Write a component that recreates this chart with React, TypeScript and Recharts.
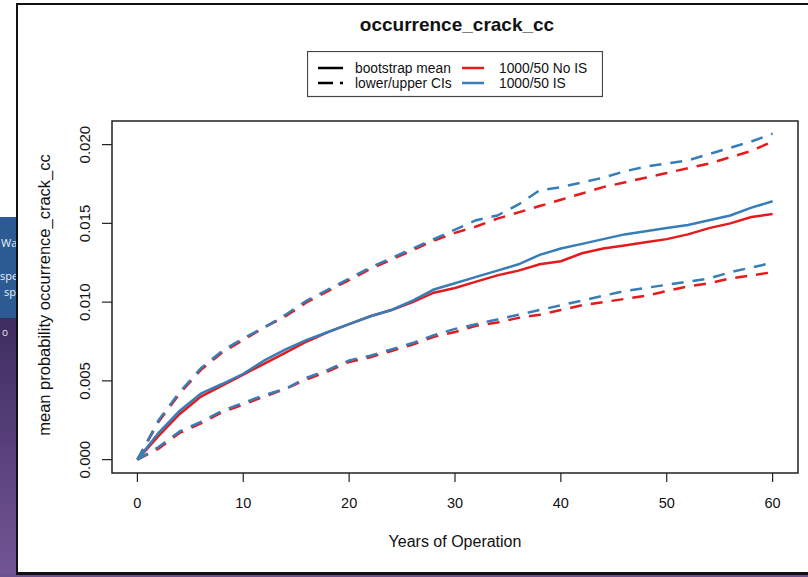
import { LineChart, Line, XAxis, YAxis, ReferenceArea, Legend, Label } from "recharts";

const years = [0, 2, 4, 6, 8, 10, 12, 14, 16, 18, 20, 22, 24, 26, 28, 30, 32, 34, 36, 38, 40, 42, 44, 46, 48, 50, 52, 54, 56, 58, 60];

// 1000/50 No IS (red)
const meanNoIS = [0, 0.0015, 0.0029, 0.004, 0.0047, 0.0054, 0.0061, 0.0068, 0.0075, 0.0081, 0.0086, 0.0091, 0.0095, 0.01, 0.0106, 0.0109, 0.0113, 0.0117, 0.012, 0.0124, 0.0126, 0.0131, 0.0134, 0.0136, 0.0138, 0.014, 0.0143, 0.0147, 0.015, 0.0154, 0.0156];
const upperNoIS = [0, 0.0024, 0.0042, 0.0057, 0.0068, 0.0076, 0.0084, 0.0091, 0.01, 0.0107, 0.0114, 0.0121, 0.0127, 0.0133, 0.0139, 0.0144, 0.0148, 0.0153, 0.0157, 0.0161, 0.0165, 0.0169, 0.0173, 0.0176, 0.0179, 0.0182, 0.0185, 0.0188, 0.0192, 0.0196, 0.0202];
const lowerNoIS = [0, 0.0007, 0.0017, 0.0023, 0.003, 0.0035, 0.004, 0.0045, 0.0051, 0.0056, 0.0062, 0.0065, 0.0069, 0.0073, 0.0078, 0.0081, 0.0085, 0.0087, 0.009, 0.0092, 0.0095, 0.0098, 0.01, 0.0102, 0.0104, 0.0107, 0.011, 0.0112, 0.0115, 0.0117, 0.0119];

// 1000/50 IS (blue)
const meanIS = [0, 0.0017, 0.0031, 0.0042, 0.0048, 0.00545, 0.0063, 0.007, 0.0076, 0.0081, 0.0086, 0.0091, 0.0095, 0.0101, 0.0108, 0.0112, 0.0116, 0.012, 0.0124, 0.013, 0.0134, 0.0137, 0.014, 0.0143, 0.0145, 0.0147, 0.0149, 0.0152, 0.0155, 0.016, 0.0164];
const upperIS = [0, 0.0025, 0.0043, 0.0058, 0.0069, 0.0077, 0.0084, 0.0092, 0.0101, 0.0108, 0.0115, 0.0122, 0.0128, 0.0134, 0.014, 0.0146, 0.0152, 0.0155, 0.0162, 0.0171, 0.0173, 0.0176, 0.0179, 0.0183, 0.0186, 0.0188, 0.019, 0.0194, 0.0198, 0.0202, 0.0207];
const lowerIS = [0, 0.0008, 0.0018, 0.0024, 0.0031, 0.0036, 0.0041, 0.0045, 0.0052, 0.0057, 0.0063, 0.0066, 0.007, 0.0074, 0.0079, 0.0083, 0.0086, 0.0089, 0.0092, 0.0095, 0.0098, 0.0101, 0.0104, 0.0107, 0.0109, 0.0111, 0.0113, 0.0115, 0.0119, 0.0122, 0.0125];

const xTicks = [0, 10, 20, 30, 40, 50, 60];
const yTicks = [0, 0.005, 0.01, 0.015, 0.02];
const legendStyles = ["bootstrap mean", "lower/upper CIs"];
const legendGroups = ["1000/50 No IS", "1000/50 IS"];

const RED = "#E41A1C";
const BLUE = "#377EB8";
const FONT = "'Liberation Sans', Arial, sans-serif";
const DASH = "12 9";

const data = years.map((year, i) => ({
  year,
  meanNoIS: meanNoIS[i],
  upperNoIS: upperNoIS[i],
  lowerNoIS: lowerNoIS[i],
  meanIS: meanIS[i],
  upperIS: upperIS[i],
  lowerIS: lowerIS[i],
}));

const XTick = (props: any) => {
  const { x, y, payload } = props;
  return (
    <text x={x} y={y + 24} textAnchor="middle" fontFamily={FONT} fontSize={14.5} fill="#111">
      {payload.value}
    </text>
  );
};

const YTick = (props: any) => {
  const { x, y, payload } = props;
  return (
    <text transform={`translate(${x - 10},${y}) rotate(-90)`} textAnchor="middle" fontFamily={FONT} fontSize={15} fill="#111">
      {Number(payload.value).toFixed(3)}
    </text>
  );
};

const LegendBox = () => (
  <svg width={296} height={47} style={{ display: "block" }}>
    <rect x={0.5} y={0.5} width={295} height={45} fill="#fff" stroke="#444" strokeWidth={1.2} />
    <line x1={11} x2={36} y1={17} y2={17} stroke="#000" strokeWidth={2.5} />
    <line x1={11} x2={36} y1={32} y2={32} stroke="#000" strokeWidth={2.5} strokeDasharray="15 7" />
    <line x1={155} x2={177} y1={17} y2={17} stroke={RED} strokeWidth={2.5} />
    <line x1={155} x2={177} y1={32} y2={32} stroke={BLUE} strokeWidth={2.5} />
    {legendStyles.map((t, i) => (
      <text key={t} x={48} y={21.5 + i * 15} fontFamily={FONT} fontSize={13.8} fill="#111">
        {t}
      </text>
    ))}
    {legendGroups.map((t, i) => (
      <text key={t} x={192} y={21.5 + i * 15} fontFamily={FONT} fontSize={13.8} fill="#111">
        {t}
      </text>
    ))}
  </svg>
);

export default function App() {
  return (
    <div style={{ position: "fixed", left: 0, top: 0, width: 808, height: 577, background: "#fff", overflow: "hidden" }}>
      {/* background window bits */}
      <div style={{ position: "absolute", left: 0, top: 217, width: 17, height: 101, background: "#2b5b92" }} />
      <div style={{ position: "absolute", left: 0, top: 318, width: 17, height: 259, background: "linear-gradient(#3e2d60, #735595)" }} />
      <div style={{ position: "absolute", left: 0, top: 574, width: 808, height: 3, background: "#6a5290" }} />
      <div style={{ position: "absolute", left: 1, top: 237, fontFamily: "'Open Sans', sans-serif", fontSize: 11, color: "#e8eef8", lineHeight: "12px" }}>Wa</div>
      <div style={{ position: "absolute", left: 0, top: 270, fontFamily: "'Open Sans', sans-serif", fontSize: 11, color: "#e8eef8", lineHeight: "12px" }}>spe</div>
      <div style={{ position: "absolute", left: 4, top: 286, fontFamily: "'Open Sans', sans-serif", fontSize: 11, color: "#e8eef8", lineHeight: "12px" }}>sp</div>
      <div style={{ position: "absolute", left: 2, top: 326, fontFamily: "'Open Sans', sans-serif", fontSize: 10, color: "#e8e4f0", lineHeight: "12px" }}>o</div>
      {/* window frame */}
      <div style={{ position: "absolute", left: 16, top: 3, width: 792, height: 2, background: "#111" }} />
      <div style={{ position: "absolute", left: 16, top: 3, width: 2, height: 572, background: "#111" }} />
      <div style={{ position: "absolute", left: 16, top: 572, width: 792, height: 3, background: "#111" }} />
      <div style={{ position: "absolute", left: 0, top: 0, width: 808, height: 577 }}>
        <LineChart width={808} height={577} data={data} margin={{ top: 121, right: 10, bottom: 0, left: 0 }}>
          <text x={457} y={31} textAnchor="middle" fontFamily={FONT} fontWeight="bold" fontSize={19} fill="#111">
            occurrence_crack_cc
          </text>
          <XAxis
            dataKey="year"
            type="number"
            domain={[-2.4, 62.4]}
            ticks={xTicks}
            allowDataOverflow
            height={104}
            axisLine={false}
            tickLine={{ stroke: "#222", strokeWidth: 1.2 }}
            tickSize={9}
            tick={<XTick />}
            interval={0}
          >
            <Label
              content={(p: any) => {
                const vb = p.viewBox || { x: 112, y: 473, width: 686 };
                return (
                  <text x={vb.x + vb.width / 2} y={vb.y + 74} textAnchor="middle" fontFamily={FONT} fontSize={16} fill="#111">
                    Years of Operation
                  </text>
                );
              }}
            />
          </XAxis>
          <YAxis
            type="number"
            domain={[-0.00085, 0.0215]}
            ticks={yTicks}
            allowDataOverflow
            width={112}
            axisLine={false}
            tickLine={{ stroke: "#222", strokeWidth: 1.2 }}
            tickSize={10}
            tick={<YTick />}
            interval={0}
          >
            <Label
              content={(p: any) => {
                const vb = p.viewBox || { x: 0, y: 121, height: 352 };
                return (
                  <text transform={`translate(${49.5},${vb.y + vb.height / 2 - 2}) rotate(-90)`} textAnchor="middle" fontFamily={FONT} fontSize={16.5} fill="#111">
                    mean probability occurrence_crack_cc
                  </text>
                );
              }}
            />
          </YAxis>
          <ReferenceArea x1={-2.4} x2={62.4} y1={-0.00085} y2={0.0215} fill="none" stroke="#222" strokeWidth={1.5} ifOverflow="visible" />
          <Legend
            layout="vertical"
            align="center"
            verticalAlign="middle"
            wrapperStyle={{ position: "absolute", left: 307, top: 51, width: 296, height: 47 }}
            content={() => <LegendBox />}
          />
          <Line dataKey="upperNoIS" stroke={RED} strokeWidth={2.5} strokeDasharray={DASH} dot={false} isAnimationActive={false} />
          <Line dataKey="lowerNoIS" stroke={RED} strokeWidth={2.5} strokeDasharray={DASH} dot={false} isAnimationActive={false} />
          <Line dataKey="meanNoIS" stroke={RED} strokeWidth={2.5} dot={false} isAnimationActive={false} />
          <Line dataKey="upperIS" stroke={BLUE} strokeWidth={2.5} strokeDasharray={DASH} dot={false} isAnimationActive={false} />
          <Line dataKey="lowerIS" stroke={BLUE} strokeWidth={2.5} strokeDasharray={DASH} dot={false} isAnimationActive={false} />
          <Line dataKey="meanIS" stroke={BLUE} strokeWidth={2.5} dot={false} isAnimationActive={false} />
        </LineChart>
      </div>
    </div>
  );
}
